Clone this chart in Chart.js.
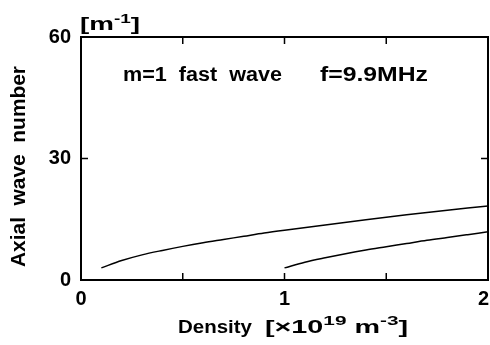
<!DOCTYPE html>
<html>
<head>
<meta charset="utf-8">
<script src="https://cdn.jsdelivr.net/npm/chart.js@4/dist/chart.umd.min.js"></script>
<style>
html,body{margin:0;padding:0;background:#fff;}
canvas{display:block;}
</style>
</head>
<body>
<canvas id="c" width="490" height="345"></canvas>
<script>
// Density [x10^19 m^-3]
const density1 = [0.1, 0.2, 0.3, 0.4, 0.5, 0.6, 0.7, 0.8, 0.9, 1.0, 1.2, 1.4, 1.6, 1.8, 2.0];
// Axial wave number [m^-1], first branch
const wave1 = [3.0, 4.8, 6.2, 7.3, 8.3, 9.2, 10.0, 10.8, 11.6, 12.3, 13.6, 14.9, 16.1, 17.2, 18.3];
const density2 = [1.0, 1.1, 1.2, 1.3, 1.4, 1.5, 1.6, 1.7, 1.8, 1.9, 2.0];
// second branch
const wave2 = [3.0, 4.4, 5.5, 6.5, 7.4, 8.2, 9.0, 9.8, 10.5, 11.2, 11.9];
const xTickLabels = [0, 1, 2];
const yTickLabels = [0, 30, 60];
const xMinorTicks = [0.5, 1, 1.5];
const yMinorTicks = [30];

const FONT = '"Liberation Sans", Arial, sans-serif';

function drawRich(ctx, segs, x0, x1, baseline, size, supSize, rise) {
  let W = 0;
  const ws = segs.map(s => {
    ctx.font = 'bold ' + (s.sup ? supSize : size) + 'px ' + FONT;
    const w = ctx.measureText(s.t).width; W += w; return w;
  });
  const sc = (x1 - x0) / W;
  ctx.save();
  ctx.translate(x0, baseline);
  ctx.scale(sc, 1);
  ctx.fillStyle = '#000';
  ctx.textBaseline = 'alphabetic';
  ctx.textAlign = 'left';
  let cx = 0;
  segs.forEach((s, i) => {
    ctx.font = 'bold ' + (s.sup ? supSize : size) + 'px ' + FONT;
    ctx.fillText(s.t, cx, s.sup ? -rise : 0);
    cx += ws[i];
  });
  ctx.restore();
}

const decor = {
  id: 'decor',
  beforeDraw(chart) {
    // keep the last x tick label ("2") inside the canvas, right-aligned to the axis end
    const s = chart.scales.x;
    if (s && typeof s._computeLabelItems === 'function') {
      const items = s._computeLabelItems(chart.chartArea);
      const last = items[items.length - 1];
      if (last && last.options && last.options.translation) {
        last.options.translation[0] = chart.chartArea.right + 1;
        last.options.textAlign = 'right';
      }
      s._labelItems = items;
    }
  },
  afterDraw(chart) {
    const ctx = chart.ctx;
    const a = chart.chartArea;
    const xs = chart.scales.x, ys = chart.scales.y;
    ctx.save();
    ctx.strokeStyle = '#000';
    ctx.lineWidth = 2;
    ctx.strokeRect(a.left, a.top, a.right - a.left, a.bottom - a.top);
    ctx.lineWidth = 1.5;
    ctx.beginPath();
    xMinorTicks.forEach(v => {
      const px = xs.getPixelForValue(v);
      ctx.moveTo(px, a.bottom); ctx.lineTo(px, a.bottom - 7);
      ctx.moveTo(px, a.top); ctx.lineTo(px, a.top + 7);
    });
    yMinorTicks.forEach(v => {
      const py = ys.getPixelForValue(v);
      ctx.moveTo(a.left, py); ctx.lineTo(a.left + 7, py);
      ctx.moveTo(a.right, py); ctx.lineTo(a.right - 7, py);
    });
    ctx.stroke();
    ctx.restore();

    // unit label above plot
    drawRich(ctx, [{t:'[m'},{t:'-1',sup:true},{t:']'}], 80, 140, 30, 19, 13, 7);
    // annotations
    drawRich(ctx, [{t:'m=1  fast  wave'}], 123, 282, 81, 20, 12, 7);
    drawRich(ctx, [{t:'f=9.9MHz'}], 320, 428, 81, 20, 12, 7);
    // x title
    drawRich(ctx, [{t:'Density'}], 178, 252, 333, 18, 12, 7);
    drawRich(ctx, [{t:'[\u00d710'},{t:'19',sup:true},{t:' m'},{t:'-3',sup:true},{t:']'}], 265, 408, 333, 18, 13, 8);
    // y title (rotated)
    ctx.save();
    ctx.translate(25, 267);
    ctx.rotate(-Math.PI / 2);
    drawRich(ctx, [{t:'Axial  wave  number'}], 0, 201, 0, 20, 12, 7);
    ctx.restore();
  }
};

const tickFont = { family: FONT, size: 20, weight: 'bold' };

new Chart(document.getElementById('c'), {
  type: 'scatter',
  data: {
    datasets: [
      { data: density1.map((x, i) => ({ x: x, y: wave1[i] })), showLine: true, borderColor: '#000', borderWidth: 1.5, pointRadius: 0, cubicInterpolationMode: 'monotone', fill: false },
      { data: density2.map((x, i) => ({ x: x, y: wave2[i] })), showLine: true, borderColor: '#000', borderWidth: 1.5, pointRadius: 0, cubicInterpolationMode: 'monotone', fill: false }
    ]
  },
  options: {
    responsive: false,
    animation: false,
    devicePixelRatio: 1,
    layout: { padding: { top: 37, right: 2, bottom: 0, left: 0 } },
    plugins: { legend: { display: false }, tooltip: { enabled: false } },
    scales: {
      x: {
        type: 'linear', min: 0, max: 2,
        afterBuildTicks: s => { s.ticks = xTickLabels.map(v => ({ value: v })); },
        ticks: { font: tickFont, color: '#000', padding: 7, maxRotation: 0, autoSkip: false, callback: v => String(v) },
        grid: { display: false, drawTicks: false },
        border: { display: false },
        afterFit: s => { s.height = 65; s.paddingLeft = 0; s.paddingRight = 0; }
      },
      y: {
        type: 'linear', min: 0, max: 60,
        afterBuildTicks: s => { s.ticks = yTickLabels.map(v => ({ value: v })); },
        ticks: { font: tickFont, color: '#000', padding: 10, callback: v => String(v) },
        grid: { display: false, drawTicks: false },
        border: { display: false },
        afterFit: s => { s.width = 81; s.paddingTop = 0; s.paddingBottom = 0; }
      }
    }
  },
  plugins: [decor]
});
</script>
</body>
</html>
